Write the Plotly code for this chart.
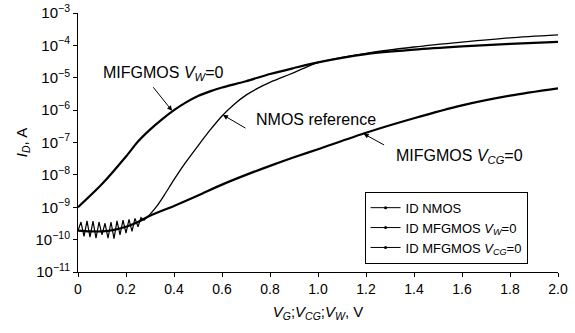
import plotly.graph_objects as go

# ---- data (drain current, A) ----
# NMOS reference: noisy sub-threshold floor, then the turn-on
v_nmos_noise = [0, 0.0125, 0.025, 0.0375, 0.05, 0.0625, 0.075, 0.0875, 0.1, 0.1125, 0.125,
                0.1375, 0.15, 0.1625, 0.175, 0.1875, 0.2, 0.2125, 0.225, 0.2375, 0.25,
                0.2625, 0.275, 0.30]
i_nmos_noise = [1.9e-10, 3.5e-10, 1.26e-10, 3.8e-10, 1.2e-10, 3.7e-10, 1.12e-10, 3.5e-10,
                1.4e-10, 3.2e-10, 1.12e-10, 3.5e-10, 1.07e-10, 3.8e-10, 1.4e-10, 4.0e-10,
                1.6e-10, 4.2e-10, 1.8e-10, 4.5e-10, 2.5e-10, 4.8e-10, 4.0e-10, 6.0e-10]
v_nmos_rise = [0.30, 0.33, 0.36, 0.40, 0.45, 0.50, 0.55, 0.60, 0.65, 0.70, 0.75, 0.80, 0.85,
               0.90, 0.95, 1.00, 1.20, 1.40, 1.60, 1.80, 2.00]
i_nmos_rise = [6.0e-10, 1.12e-9, 2.4e-9, 7.1e-9, 2.5e-8, 7.9e-8, 2.4e-7, 6.6e-7, 1.5e-6,
               2.9e-6, 4.8e-6, 7.2e-6, 1.02e-5, 1.45e-5, 2.1e-5, 2.95e-5, 5.7e-5, 8.9e-5,
               1.26e-4, 1.7e-4, 2.1e-4]

v_vw = [0, 0.1, 0.2, 0.25, 0.3, 0.35, 0.4, 0.45, 0.5, 0.55, 0.6, 0.7, 0.8, 0.9, 1.0, 1.2,
        1.4, 1.6, 1.8, 2.0]
i_vw = [1.0e-9, 5.2e-9, 3.7e-8, 1.07e-7, 2.5e-7, 5.2e-7, 1.0e-6, 1.74e-6, 2.75e-6, 3.8e-6,
        5.0e-6, 7.8e-6, 1.3e-5, 2.0e-5, 3.0e-5, 5.4e-5, 7.4e-5, 9.3e-5, 1.12e-4, 1.29e-4]

v_vcg = [0, 0.05, 0.1, 0.15, 0.2, 0.25, 0.3, 0.4, 0.5, 0.6, 0.7, 0.8, 0.9, 1.0, 1.2, 1.4,
         1.6, 1.8, 2.0]
i_vcg = [1.9e-10, 1.8e-10, 1.8e-10, 2.0e-10, 2.5e-10, 3.5e-10, 5.5e-10, 1.1e-9, 2.3e-9,
         5.0e-9, 1.0e-8, 1.9e-8, 3.5e-8, 6.2e-8, 2.0e-7, 5.6e-7, 1.4e-6, 2.8e-6, 4.7e-6]

names = ["ID NMOS",
         "ID MFGMOS <i>V</i><sub><i>W</i></sub>=0",
         "ID MFGMOS <i>V</i><sub><i>CG</i></sub>=0"]

x_ticks = [0, 0.2, 0.4, 0.6, 0.8, 1.0, 1.2, 1.4, 1.6, 1.8, 2.0]
x_ticktext = ["0", "0.2", "0.4", "0.6", "0.8", "1.0", "1.2", "1.4", "1.6", "1.8", "2.0"]
y_exps = [-11, -10, -9, -8, -7, -6, -5, -4, -3]

FONT = "Liberation Sans, Arial, Helvetica, sans-serif"

fig = go.Figure()
series = [(v_nmos_noise, i_nmos_noise, "linear", 1.2),
          (v_nmos_rise, i_nmos_rise, "spline", 1.3),
          (v_vw, i_vw, "spline", 2.2),
          (v_vcg, i_vcg, "spline", 2.2)]
for vx, iy, shp, w in series:
    ln = dict(color="black", width=w, shape=shp)
    if shp == "spline":
        ln["smoothing"] = 0.8
    fig.add_trace(go.Scatter(x=vx, y=iy, mode="lines", line=ln, showlegend=False,
                             hoverinfo="x+y"))
# legend-only entries (line with dot marker, as in the reference legend)
for nm in names:
    fig.add_trace(go.Scatter(x=[None], y=[None], mode="lines+markers", name=nm,
                             line=dict(color="black", width=1),
                             marker=dict(size=3, color="black")))

ann_font = dict(family=FONT, size=16, color="black")
fig.add_annotation(x=0.354, y=-4.86, text="MIFGMOS <i>V</i><sub><i>W</i></sub>=0",
                   showarrow=False, font=ann_font, xanchor="center", yanchor="middle")
fig.add_annotation(x=0.99, y=-6.30, text="NMOS reference",
                   showarrow=False, font=ann_font, xanchor="center", yanchor="middle")
fig.add_annotation(x=1.59, y=-7.42, text="MIFGMOS <i>V</i><sub><i>CG</i></sub>=0",
                   showarrow=False, font=ann_font, xanchor="center", yanchor="middle")
for (tx, ty, ax, ay) in [(0.392, -6.02, -20, -25), (0.604, -6.15, 24, 14),
                         (1.19, -6.73, 22, 12)]:
    fig.add_annotation(x=tx, y=ty, text="", showarrow=True, ax=ax, ay=ay,
                       arrowhead=2, arrowsize=1, arrowwidth=1, arrowcolor="black")

fig.update_layout(
    width=575, height=333,
    margin=dict(l=78, r=17, t=13, b=61),
    paper_bgcolor="white", plot_bgcolor="white",
    font=dict(family=FONT, size=14, color="black"),
    showlegend=True,
    legend=dict(x=0.597, y=0.31, xanchor="left", yanchor="top",
                bgcolor="white", bordercolor="black", borderwidth=1,
                font=dict(family=FONT, size=13), tracegroupgap=0, itemwidth=30),
)
fig.update_xaxes(range=[0, 2.0], tickvals=x_ticks, ticktext=x_ticktext, automargin=False,
                 showline=True, linecolor="black", linewidth=1, ticks="outside",
                 ticklen=4, tickcolor="black", showgrid=False, zeroline=False,
                 tickfont=dict(size=14),
                 title=dict(text="<i>V</i><sub><i>G</i></sub>;<i>V</i><sub><i>CG</i></sub>;"
                                 "<i>V</i><sub><i>W</i></sub>, V",
                            font=dict(size=15), standoff=10))
fig.update_yaxes(type="log", range=[-11, -3], automargin=False,
                 tickvals=[10.0 ** e for e in y_exps],
                 ticktext=["10<sup>\u2212%d</sup>" % (-e) for e in y_exps],
                 showline=True, linecolor="black", linewidth=1, ticks="outside",
                 ticklen=4, tickcolor="black", showgrid=False, zeroline=False,
                 tickfont=dict(size=15),
                 title=dict(text="<i>I</i><sub><i>D</i></sub>, A", font=dict(size=15),
                            standoff=4))

fig.write_html("out.html")
